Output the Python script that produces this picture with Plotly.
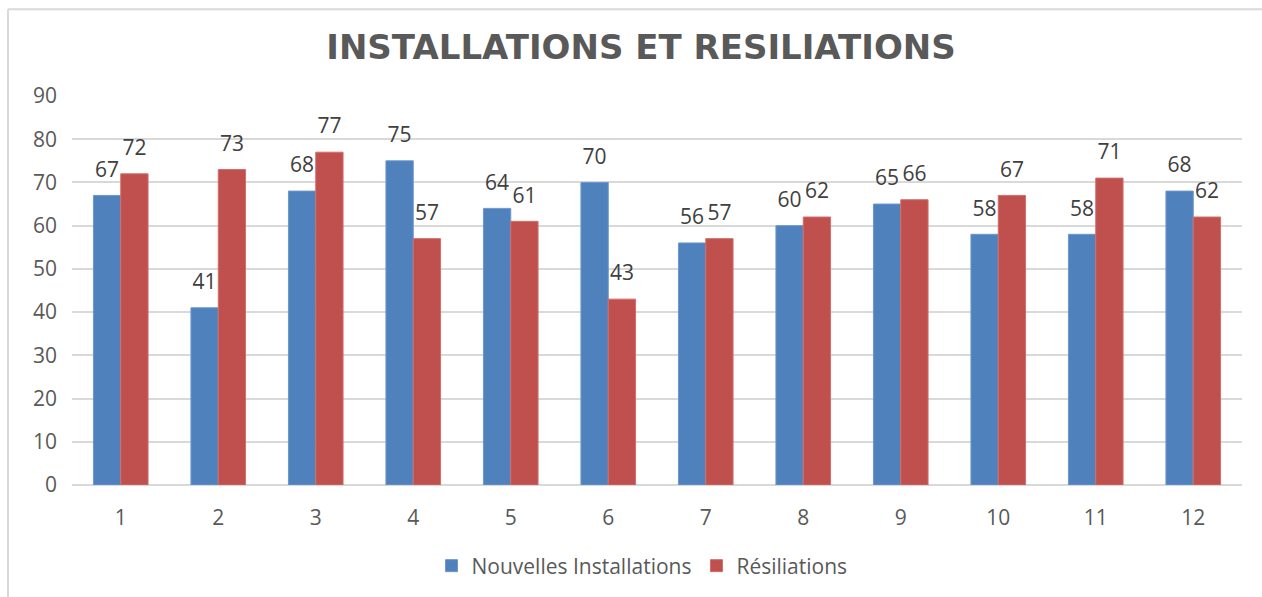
import plotly.graph_objects as go

categories = [str(i) for i in range(1, 13)]
installations = [67, 41, 68, 75, 64, 70, 56, 60, 65, 58, 58, 68]
resiliations = [72, 73, 77, 57, 61, 43, 57, 62, 66, 67, 71, 62]
y_ticks = list(range(0, 91, 10))

BLUE, RED = "#4F81BD", "#C0504D"
FONT = "Open Sans"

fig = go.Figure()
for name, vals, col, edge in [("Nouvelles Installations", installations, BLUE, "#6E97CC"),
                              ("Résiliations", resiliations, RED, "#D06E6B")]:
    fig.add_trace(go.Bar(x=categories, y=vals, name=name, hoverinfo="skip",
                         marker=dict(color=col, line=dict(color=edge, width=1))))
for vals in [installations, resiliations]:
    fig.add_trace(go.Scatter(
        x=categories, y=vals, mode="markers+text", text=vals, orientation="v",
        textposition="top center", cliponaxis=False, showlegend=False, hoverinfo="skip",
        marker=dict(size=20, color="rgba(0,0,0,0)"),
        textfont=dict(family=FONT, size=21, color="#404040"),
    ))

W, H = 1262, 597
L, R, T, B = 72, 20, 96, 111
pw, ph = W - L - R, H - T - B

def px(x):
    return (x - L) / pw

def py(y):
    return (H - B - y) / ph

border = dict(color="#D9D9D9", width=2)

fig.update_layout(
    width=W, height=H,
    margin=dict(l=L, r=R, t=T, b=B),
    paper_bgcolor="white", plot_bgcolor="white",
    barmode="group", bargap=0.44, bargroupgap=0,
    scattermode="group", scattergap=0.44,
    title=dict(text="<b>INSTALLATIONS ET RESILIATIONS</b>", x=641 / W, xanchor="center",
               y=1 - 47 / H, yanchor="middle",
               font=dict(family="DejaVu Sans", size=34, color="#595959")),
    font=dict(family=FONT, color="#595959"),
    legend=dict(orientation="h", x=px(642), xanchor="center", y=py(566), yanchor="middle",
                font=dict(family=FONT, size=21, color="#595959"),
                itemwidth=30, tracegroupgap=0),
    xaxis=dict(type="category", showgrid=False, showline=False, ticks="",
               tickfont=dict(family=FONT, size=21, color="#595959"), ticklabelstandoff=18),
    yaxis=dict(range=[0, 90], tickvals=y_ticks, showgrid=True, gridcolor="#D9D9D9",
               gridwidth=1.5, zeroline=True, zerolinecolor="#D9D9D9", zerolinewidth=1.5,
               showline=False, ticks="", tickfont=dict(family=FONT, size=21, color="#595959"),
               ticklabelstandoff=14),
    shapes=[
        dict(type="line", xref="paper", yref="paper", x0=px(8), x1=px(W + 60),
             y0=py(9), y1=py(9), line=border, layer="below"),
        dict(type="line", xref="paper", yref="paper", x0=px(8), x1=px(8),
             y0=py(9), y1=py(H + 60), line=border, layer="below"),
    ],
)

fig.write_html("out.html", config={"displayModeBar": False},
               post_script="document.body.style.margin='0';document.body.style.overflow='hidden';")
